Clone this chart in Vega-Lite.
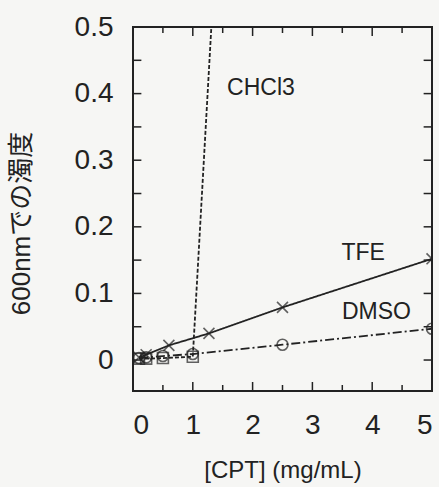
{
  "$schema": "https://vega.github.io/schema/vega-lite/v6.json",
  "width": 299,
  "height": 364,
  "autosize": {"type": "none"},
  "padding": {"left": 133, "top": 27, "right": 7, "bottom": 96},
  "background": "#f6f6f4",
  "config": {
    "view": {"stroke": "#222", "strokeWidth": 2},
    "font": "Liberation Sans",
    "axis": {"domain": false, "grid": false, "ticks": false, "tickSize": 0, "labelColor": "#222", "titleColor": "#222", "labelFont": "Liberation Sans", "titleFont": "Liberation Sans"}
  },
  "datasets": {
    "pts": [
      {"series": "TFE", "x": 0.1, "y": 0.004},
      {"series": "TFE", "x": 0.22, "y": 0.008},
      {"series": "TFE", "x": 0.6, "y": 0.022},
      {"series": "TFE", "x": 1.27, "y": 0.04},
      {"series": "TFE", "x": 2.5, "y": 0.079},
      {"series": "TFE", "x": 5, "y": 0.152},
      {"series": "DMSO", "x": 0.1, "y": 0.003},
      {"series": "DMSO", "x": 0.22, "y": 0.004},
      {"series": "DMSO", "x": 0.5, "y": 0.006},
      {"series": "DMSO", "x": 1.0, "y": 0.009},
      {"series": "DMSO", "x": 2.5, "y": 0.023},
      {"series": "DMSO", "x": 5, "y": 0.047},
      {"series": "CHCl3", "x": 0.1, "y": 0.002},
      {"series": "CHCl3", "x": 0.22, "y": 0.002},
      {"series": "CHCl3", "x": 0.5, "y": 0.003},
      {"series": "CHCl3", "x": 1.0, "y": 0.005},
      {"series": "CHCl3", "x": 2.0, "y": 1.6}
    ],
    "labels": [
      {"text": "CHCl3", "x": 2.14, "y": 0.408},
      {"text": "TFE", "x": 3.85, "y": 0.161},
      {"text": "DMSO", "x": 4.07, "y": 0.072}
    ],
    "xticks": [
      {"v": 0.5, "major": false}, {"v": 1, "major": true}, {"v": 1.5, "major": false},
      {"v": 2, "major": true}, {"v": 2.5, "major": false}, {"v": 3, "major": true},
      {"v": 3.5, "major": false}, {"v": 4, "major": true}, {"v": 4.5, "major": false}
    ],
    "yticks": [
      {"v": 0}, {"v": 0.05}, {"v": 0.1}, {"v": 0.15}, {"v": 0.2}, {"v": 0.25},
      {"v": 0.3}, {"v": 0.35}, {"v": 0.4}, {"v": 0.45}
    ]
  },
  "layer": [
    {
      "data": {"name": "pts"},
      "encoding": {
        "x": {"field": "x", "type": "quantitative", "scale": {"domain": [0, 5], "nice": false, "zero": false},
          "axis": {"orient": "bottom", "values": [0, 1, 2, 3, 4, 5], "format": "d", "labelPadding": 20, "labelFontSize": 28, "title": "[CPT] (mg/mL)", "titleFontSize": 24, "titleFontWeight": "normal", "titlePadding": 19}},
        "y": {"field": "y", "type": "quantitative", "scale": {"domain": [-0.0465, 0.5], "nice": false, "zero": false},
          "axis": {"orient": "left", "values": [0, 0.1, 0.2, 0.3, 0.4, 0.5], "format": ".1~f", "labelPadding": 20, "labelFontSize": 28, "title": "600nmでの濁度", "titleFontSize": 26, "titleFontWeight": "normal", "titlePadding": 40, "titleY": 196, "titleFont": "Liberation Sans, Noto Sans CJK JP"}}
      },
      "layer": [
        {
          "mark": {"type": "line", "color": "#222", "strokeWidth": 1.8, "clip": true},
          "encoding": {
            "detail": {"field": "series"},
            "strokeDash": {"field": "series", "type": "nominal", "scale": {"domain": ["TFE", "DMSO", "CHCl3"], "range": [[1, 0], [9, 3, 2, 3], [4, 2]]}, "legend": null}
          }
        },
        {
          "mark": {"type": "point", "filled": false, "color": "#222", "strokeWidth": 1.6, "size": 120, "clip": true},
          "encoding": {
            "shape": {"field": "series", "type": "nominal", "scale": {"domain": ["TFE", "DMSO", "CHCl3"], "range": ["M-1,-1L1,1M-1,1L1,-1", "circle", "square"]}, "legend": null}
          }
        },
        {
          "data": {"name": "labels"},
          "mark": {"type": "text", "fontSize": 23, "color": "#222", "baseline": "middle", "align": "center"},
          "encoding": {
            "text": {"field": "text"}
          }
        }
      ]
    },
    {
      "data": {"name": "xticks"},
      "transform": [{"filter": "datum.major"}],
      "encoding": {
        "x": {"field": "v", "type": "quantitative"}
      },
      "layer": [
        {"mark": {"type": "rule", "strokeWidth": 1.5, "color": "#222"},
         "encoding": {"y": {"datum": 0.5}, "y2": {"datum": 0.4865}}},
        {"mark": {"type": "rule", "strokeWidth": 1.5, "color": "#222"},
         "encoding": {"y": {"datum": -0.0465}, "y2": {"datum": -0.033}}}
      ]
    },
    {
      "data": {"name": "xticks"},
      "transform": [{"filter": "!datum.major"}],
      "encoding": {
        "x": {"field": "v", "type": "quantitative"}
      },
      "layer": [
        {"mark": {"type": "rule", "strokeWidth": 1.5, "color": "#222"},
         "encoding": {"y": {"datum": 0.5}, "y2": {"datum": 0.491}}},
        {"mark": {"type": "rule", "strokeWidth": 1.5, "color": "#222"},
         "encoding": {"y": {"datum": -0.0465}, "y2": {"datum": -0.0375}}}
      ]
    },
    {
      "data": {"name": "yticks"},
      "encoding": {
        "y": {"field": "v", "type": "quantitative"}
      },
      "layer": [
        {"mark": {"type": "rule", "strokeWidth": 1.5, "color": "#222"},
         "encoding": {"x": {"datum": 0}, "x2": {"datum": 0.14}}},
        {"mark": {"type": "rule", "strokeWidth": 1.5, "color": "#222"},
         "encoding": {"x": {"datum": 5}, "x2": {"datum": 4.86}}}
      ]
    }
  ]
}
